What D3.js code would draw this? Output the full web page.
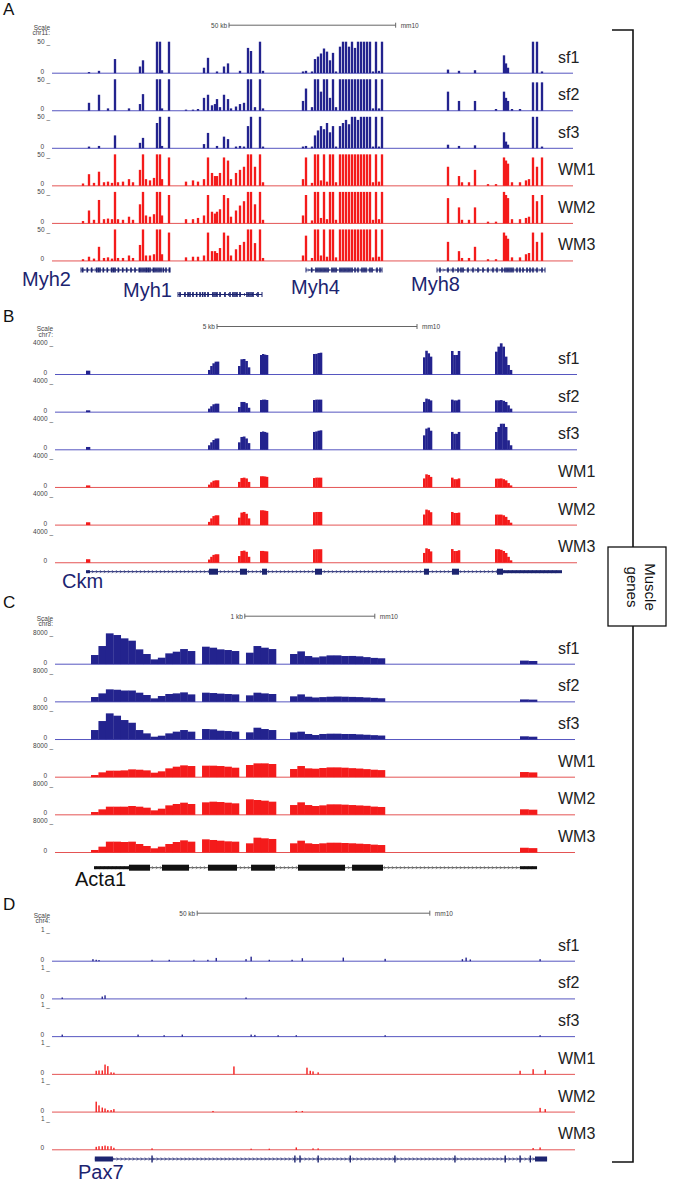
<!DOCTYPE html>
<html><head><meta charset="utf-8">
<script src="https://cdn.jsdelivr.net/npm/d3@7"></script>
<style>body{margin:0;background:#fff}svg{display:block}text{font-family:"Liberation Sans",Arial,sans-serif}</style>
</head><body><svg id="c" width="700" height="1182"></svg>
<script>
// ---------------- DATA ----------------
const samples = ["sf1","sf2","sf3","WM1","WM2","WM3"];

// Panel A (chr11, Myh cluster) — positions in kb from window start, heights 0–50
const aPos = [9.3,11.1,12.6,14.1,15.6,16.8,18.0,18.9,19.8,21.3,23.1,24.3,26.4,27.3,28.2,29.4,30.6,31.5,32.4,33.0,35.1,40.2,42.3,43.8,45.6,46.8,48.0,48.9,49.5,50.4,51.6,52.8,53.7,55.2,56.4,57.6,58.8,59.7,60.9,62.4,63.3,
  75.3,76.2,78.0,78.9,79.8,80.7,81.6,82.5,83.4,84.3,85.2,86.4,87.3,88.2,89.1,90.0,90.9,91.8,92.7,93.6,94.5,95.4,96.3,97.2,98.1,99.0,
  118.8,122.1,123.0,125.1,126.9,130.8,133.2,135.6,136.2,136.8,138.0,140.4,142.2,143.1,144.3,145.5,147.0];
const aSf1 = [0,1,0,3,0,0,0,22,0,0,0,0,10,20,0,0,0,50,50,4,50,0,0,0,8,24,0,0,2,0,10,15,0,0,3,0,40,35,0,50,3,
  2,3,2,22,26,31,39,34,20,32,2,42,50,50,42,50,40,50,50,50,50,50,2,50,3,50,
  5,3,0,0,4,0,0,28,15,8,0,0,0,0,50,50,2];
const aSf2 = [0,12,0,25,0,3,0,50,0,0,3,0,10,26,0,0,0,50,50,3,50,1,1,2,20,25,8,10,18,5,25,18,3,6,10,12,50,50,5,50,3,
  15,35,5,50,50,30,50,50,20,50,5,50,50,50,50,50,50,50,50,50,50,50,3,50,3,50,
  30,15,0,0,15,0,2,30,20,15,2,2,0,0,45,45,45];
const aSf3 = [0,2,0,3,0,0,0,20,0,0,0,0,8,16,0,0,0,40,50,3,50,0,0,0,6,24,0,0,3,0,18,14,0,2,3,2,35,50,0,50,2,
  2,3,2,20,28,35,30,40,25,35,2,35,40,45,38,50,50,45,50,50,50,50,2,50,2,50,
  5,3,0,0,4,0,0,25,10,5,0,0,0,0,50,50,2];
const aWm1 = [3,18,4,22,5,6,4,50,5,6,10,5,25,50,10,8,12,50,50,10,45,6,8,6,10,45,20,15,15,20,45,40,10,20,25,30,50,50,30,50,5,
  10,45,4,50,50,8,50,6,50,50,5,50,50,50,50,50,50,50,50,50,50,50,5,50,6,50,
  30,15,5,5,25,2,2,45,40,35,5,5,8,10,45,30,45];
const aWm2 = [3,20,5,37,6,7,6,50,6,5,10,5,30,50,12,10,14,50,50,12,45,6,6,8,12,45,18,15,18,22,45,40,10,20,28,35,50,50,30,50,5,
  12,45,4,50,50,8,50,6,50,50,5,50,50,50,50,50,50,50,50,50,50,50,5,50,6,50,
  40,25,5,5,25,2,2,50,45,40,6,6,8,10,45,35,45];
const aWm3 = [2,6,3,22,4,5,3,50,4,4,8,4,25,50,8,8,10,50,50,10,45,5,6,6,8,45,15,15,12,20,45,40,8,18,25,30,50,50,28,50,4,
  8,40,4,50,50,8,50,6,50,50,5,50,50,50,50,50,50,50,50,50,50,50,5,50,6,50,
  30,15,4,4,22,2,2,45,40,35,5,5,10,12,45,30,45];
const aGenes = ["Myh2","Myh1","Myh4","Myh8"];
const aGeneSpans = [[8.7,35.4],[37.8,63.0],[76.2,99.0],[115.5,147.9]];
const aGeneExons = [
  [9.2,10.6,11.9,13.4,13.9,14.4,15.4,16.6,17.9,18.4,18.9,19.9,21.2,22.4,23.7,24.9,26.2,26.7,27.3,27.9,28.4,28.9,29.4,30.4,30.9,31.5,32.1,32.7,33.4,34.2,35.2],
  [38.4,39.9,40.8,41.4,42.3,43.4,44.4,45.2,45.9,46.8,48.3,48.9,49.5,50.4,51.9,53.4,54.3,54.9,55.5,56.4,58.5,59.1,59.7,60.3,61.8],
  [77.9,79.2,79.8,80.4,81.0,81.6,82.2,82.8,84.0,84.6,85.2,86.4,87.0,87.6,88.2,88.8,89.4,90.0,90.9,91.8,93.0,93.6,94.2,95.4,96.0,97.5,98.4],
  [116.4,118.8,120.3,121.8,122.7,123.3,124.8,126.3,127.8,129.3,130.8,132.3,133.5,135.0,135.9,136.5,137.1,137.7,138.3,139.5,140.4,141.3,142.5,143.4,144.3,145.5,147.0]
];

// Panel B (chr7, Ckm) — exon coverage blocks (kb) with stepped heights 0–4000
const bBlockStart = [0.775,3.825,4.575,5.125,6.45,9.2,9.9,11.0];
const bBlockEnd   = [0.875,4.1,4.875,5.325,6.675,9.425,10.125,11.425];
const bSf1 = [[430],[520,1030,1380,1590,1600],[1030,1900,1935,1680,860],[2450,2580,2500,2450],[2580,2600,2700,2750],[2150,3000,2670,2240],[2970,2450,2450,2970],[2880,3530,3960,3530,2240,1160,520]];
const bSf2 = [[170],[390,700,950,1030,1030],[600,1250,1250,1100,500],[1500,1550,1550,1500],[1500,1550,1550,1550],[1250,1680,1600,1450],[1550,1450,1450,1550],[1460,1460,1500,1400,1250,820,390]];
const bSf3 = [[300],[520,900,1200,1380,1400],[900,1590,1650,1400,800],[2240,2300,2240,2150],[2240,2300,2400,2450],[1800,2670,2800,2400],[2240,2000,2000,2240],[2240,2880,3300,3300,2880,1160,520]];
const bWm1 = [[200],[300,600,800,860,860],[650,1150,1200,1100,650],[1380,1380,1350,1300],[1150,1200,1200,1200],[1100,1630,1550,1300],[1200,1000,1000,1100],[1075,1075,1100,1000,850,500,200]];
const bWm2 = [[300],[350,800,1100,1200,1200],[900,1550,1630,1400,800],[1850,1850,1800,1750],[1600,1630,1630,1630],[1300,1940,1850,1600],[1630,1500,1500,1550],[1290,1290,1290,1200,1000,600,250]];
const bWm3 = [[390],[350,700,950,1030,1030],[800,1450,1500,1350,700],[1460,1460,1420,1400],[1650,1680,1680,1680],[1200,1800,1700,1400],[1700,1450,1450,1550],[1680,1680,1600,1450,1200,700,250]];
const bGeneSpan = [0.775,12.675];
const bGeneUtr = [[0.775,0.875],[11.2,12.675]];
const bGeneExons = [[3.85,4.075],[4.625,4.8],[5.175,5.3],[6.5,6.675],[9.225,9.35],[9.925,10.1],[11.05,11.2]];

// Panel C (chr8, Acta1) — coverage blocks (kb), heights 0–8000
const cBlockStart = [0.277,1.131,1.469,1.808,3.577];
const cBlockEnd   = [1.077,1.415,1.7,2.538,3.708];
const cSf1 = [[2240,4560,7830,7400,6540,5940,3700,2500,1120,1550,2670,3100,3780,3270],[4390,4130,3700,3530,3270],[2840,4560,4130,3780],[2500,3180,1980,1630,1890,2150,2150,1980,2000,1900,1700,1500,1400],[800,700]];
const cSf2 = [[1120,2060,3100,3000,2800,2800,2240,1640,770,1380,1900,2060,2320,1800],[2240,2150,2000,1900,1800],[1550,2240,2060,1900],[1300,1800,1200,1000,1100,1200,1250,1200,1150,1100,1000,900,800],[500,450]];
const cSf3 = [[2320,4640,6620,6020,4900,4200,2320,1460,600,860,1460,1900,2320,1900],[2580,2500,2150,2060,1900],[1720,2920,2580,2320],[1720,1900,1300,1030,1300,1380,1380,1300,1300,1200,1100,1000,900],[700,600]];
const cWm1 = [[430,1120,1550,1550,1630,1890,1800,1630,1030,1380,2150,2580,2920,2750],[2840,2840,2750,2580,2320],[3010,3440,3440,3270],[1980,2750,2150,2060,2240,2400,2400,2320,2200,2100,1950,1800,1700],[1200,1100]];
const cWm2 = [[600,1290,1980,1980,1980,2150,1980,1720,1030,1460,2320,2670,3010,2670],[3100,3270,3180,3010,2840],[3870,3700,3530,3270],[2400,3100,2400,2150,2320,2580,2580,2500,2400,2300,2200,2000,1900],[1300,1200]];
const cWm3 = [[520,1380,2670,2670,2580,2670,2060,1550,950,1380,2060,2580,3010,2670],[3270,3100,2920,2750,2670],[2240,3700,3530,3360],[2240,2920,2240,2060,2240,2400,2400,2320,2250,2150,2050,1900,1800],[1100,1000]];
const cGeneSpan = [0.3,3.708];
const cGeneUtr = [[0.3,0.569],[3.577,3.708]];
const cGeneExons = [[0.569,0.731],[0.823,1.031],[1.177,1.4],[1.508,1.692],[1.869,2.231],[2.285,2.523]];

// Panel D (chr4, Pax7) — positions in kb, heights 0–1
const dPos = [2.2,8.8,9.5,10.1,10.8,11.4,12.0,12.7,13.3,18.5,21.5,24.1,25.2,28.0,30.5,33.5,34.6,35.3,39.1,41.7,42.8,43.6,46.7,48.6,51.6,52.5,53.8,54.8,55.5,56.1,57.2,62.6,71.6,88.2,89.0,89.9,98.5,100.6,103.4,104.9,106.0];
const dSf1 = [0,.05,.03,.02,0,0,0,0,0,0,.03,0,.03,0,.03,.03,0,.09,0,.05,.13,0,.03,0,.03,0,.08,0,0,0,0,.1,.06,.05,.1,.04,0,0,0,.05,0];
const dSf2 = [.03,0,0,0,.06,.1,0,0,0,0,0,0,0,0,0,0,0,0,0,.03,0,0,0,0,0,0,0,0,0,0,0,0,0,0,0,0,0,0,0,0,0];
const dSf3 = [.05,0,0,0,0,0,0,0,0,.05,0,.03,0,.05,0,0,0,0,0,0,.05,.04,0,.03,0,.03,0,0,0,0,0,0,.03,0,0,0,0,0,0,.03,0];
const dWm1 = [0,0,.1,.11,.11,.3,.25,.05,.04,0,0,0,0,0,0,0,0,0,.24,0,0,0,0,0,0,0,0,.2,.1,.08,.05,0,0,0,0,0,0,.1,.15,0,.12];
const dWm2 = [0,0,.32,.2,.13,.1,.05,.05,.08,0,0,0,0,0,0,0,.02,0,0,0,0,0,0,0,0,.02,.02,0,0,0,0,0,0,0,0,0,0,0,0,.12,.08];
const dWm3 = [0,0,.08,.1,.1,.12,.1,.1,.05,0,.03,0,0,0,0,0,0,0,0,0,.02,0,.02,0,0,.06,0,0,0,.03,.03,0,0,0,0,0,0,0,.04,.06,0];
const dGeneSpan = [9.2,106.4];
const dGeneUtr = [[9.2,13.1],[103.8,106.4]];
const dGeneExons = [21.5,52.2,53.3,57.2,64.1,73.7,86.6,97.4,100.6,102.8];

// ---------------- DRAWING ----------------
const svg = d3.select("#c");
const BLUE = "#23238e", BLUE_LINE = "#5656c0", RED = "#f41b1b", RED_LINE = "#e45454";
const NAVY = "#1c2470";

function panel(cfg) {
  const g = svg.append("g");
  const x = d3.scaleLinear().domain(cfg.domain).range([cfg.x0, cfg.x1]);
  g.append("text").attr("x", 3).attr("y", cfg.letterY).attr("font-size", 17).attr("fill", "#111").text(cfg.letter);
  const top0 = cfg.base0 - cfg.h;
  // scale bar
  const sy = top0 - 16.5;
  const sx0 = x(cfg.scale[0]), sx1 = x(cfg.scale[0] + cfg.scale[1]);
  g.append("line").attr("x1", sx0).attr("x2", sx1).attr("y1", sy).attr("y2", sy).attr("stroke", "#666").attr("stroke-width", 1);
  [sx0, sx1].forEach(v => g.append("line").attr("x1", v).attr("x2", v).attr("y1", sy - 2.5).attr("y2", sy + 2.5).attr("stroke", "#666"));
  g.append("text").attr("x", sx0 - 2).attr("y", sy + 2.3).attr("text-anchor", "end").attr("font-size", 6.5).attr("fill", "#444").text(cfg.scaleLabel);
  g.append("text").attr("x", sx1 + 5).attr("y", sy + 2.3).attr("font-size", 6.5).attr("fill", "#444").text("mm10");
  g.append("text").attr("x", cfg.x0 - 2).attr("y", top0 - 12).attr("text-anchor", "end").attr("font-size", 6.5).attr("fill", "#444").text("Scale");
  g.append("text").attr("x", cfg.x0 - 2).attr("y", top0 - 6.5).attr("text-anchor", "end").attr("font-size", 6.5).attr("fill", "#444").text(cfg.chr);

  cfg.series.forEach((vals, i) => {
    const base = cfg.base0 + i * cfg.step;
    const y = d3.scaleLinear().domain([0, cfg.max]).range([base, base - cfg.h]).clamp(true);
    const col = i < 3 ? BLUE : RED, lcol = i < 3 ? BLUE_LINE : RED_LINE;
    g.append("line").attr("x1", cfg.x0).attr("x2", cfg.x1).attr("y1", base + 0.5).attr("y2", base + 0.5).attr("stroke", lcol).attr("stroke-width", 1);
    let bars;
    if (cfg.pos) {
      bars = cfg.pos.map((p, k) => ({a: p - cfg.w / 2, b: p + cfg.w / 2, v: vals[k]})).filter(d => d.v > 0);
    } else {
      bars = [];
      cfg.starts.forEach((s, j) => {
        const steps = vals[j], n = steps.length, wd = (cfg.ends[j] - s) / n;
        steps.forEach((v, k) => bars.push({a: s + k * wd, b: s + (k + 1) * wd, v}));
      });
    }
    g.append("g").selectAll("rect").data(bars).join("rect")
      .attr("x", d => x(d.a)).attr("width", d => Math.max(0.8, x(d.b) - x(d.a) + (cfg.pos ? 0 : 0.3)))
      .attr("y", d => y(d.v)).attr("height", d => base + 0.5 - y(d.v))
      .attr("fill", col);
    g.append("text").attr("x", cfg.x0 - 2).attr("y", base - cfg.h + 2.3).attr("text-anchor", "end").attr("font-size", 6.5).attr("fill", "#444").text(cfg.max + " _");
    g.append("text").attr("x", cfg.x0 - 8).attr("y", base + 1).attr("text-anchor", "end").attr("font-size", 6.5).attr("fill", "#444").text("0");
    g.append("text").attr("x", 558).attr("y", base - 10).attr("font-size", 16).attr("fill", "#222").text(samples[i]);
  });
  return {g, x};
}

function intron(g, x, span, yy, col) {
  g.append("line").attr("x1", x(span[0])).attr("x2", x(span[1])).attr("y1", yy).attr("y2", yy).attr("stroke", col).attr("stroke-width", 1);
  const px0 = x(span[0]), px1 = x(span[1]);
  const marks = d3.range(px0 + 3, px1 - 2, 4);
  g.append("g").selectAll("path").data(marks).join("path")
    .attr("d", m => `M${m - 1},${yy - 1.5}L${m + 0.5},${yy}L${m - 1},${yy + 1.5}`)
    .attr("fill", "none").attr("stroke", col).attr("stroke-width", 0.7);
}

// ---- Panel A
const A = panel({letter: "A", letterY: 15, domain: [0, 156.3], x0: 52, x1: 573, base0: 72.7, step: 37.55, h: 31, max: 50,
  scale: [53.1, 50], scaleLabel: "50 kb", chr: "chr11:", pos: aPos, w: 0.7,
  series: [aSf1, aSf2, aSf3, aWm1, aWm2, aWm3]});
const aGeneY = [270, 294.5, 270, 270];
aGenes.forEach((name, i) => {
  const yy = aGeneY[i];
  intron(A.g, A.x, aGeneSpans[i], yy, NAVY);
  [aGeneSpans[i][0], aGeneSpans[i][1]].forEach(p => A.g.append("line").attr("x1", A.x(p)).attr("x2", A.x(p)).attr("y1", yy - 2.5).attr("y2", yy + 2.5).attr("stroke", NAVY));
  A.g.append("g").selectAll("rect").data(aGeneExons[i]).join("rect")
    .attr("x", d => A.x(d) - 0.8).attr("width", 1.6).attr("y", yy - 2.5).attr("height", 5).attr("fill", NAVY);
});
const aLab = [[22, 286], [123, 297], [291, 294], [411, 291]];
aGenes.forEach((n, i) => A.g.append("text").attr("x", aLab[i][0]).attr("y", aLab[i][1]).attr("font-size", 20).attr("fill", NAVY).text(n));

// ---- Panel B
const B = panel({letter: "B", letterY: 322, domain: [0, 13.05], x0: 55, x1: 577, base0: 374, step: 37.65, h: 31, max: 4000,
  scale: [4.05, 5], scaleLabel: "5 kb", chr: "chr7:", starts: bBlockStart, ends: bBlockEnd,
  series: [bSf1, bSf2, bSf3, bWm1, bWm2, bWm3]});
{
  const yy = 571.7;
  intron(B.g, B.x, bGeneSpan, yy, NAVY);
  B.g.append("g").selectAll("rect").data(bGeneUtr).join("rect").attr("x", d => B.x(d[0])).attr("width", d => B.x(d[1]) - B.x(d[0]))
    .attr("y", yy - 1.5).attr("height", 3).attr("fill", NAVY);
  B.g.append("g").selectAll("rect").data(bGeneExons).join("rect").attr("x", d => B.x(d[0])).attr("width", d => B.x(d[1]) - B.x(d[0]))
    .attr("y", yy - 3).attr("height", 6).attr("fill", NAVY);
  B.g.append("text").attr("x", 62).attr("y", 588).attr("font-size", 20).attr("fill", NAVY).text("Ckm");
}

// ---- Panel C
const C = panel({letter: "C", letterY: 608, domain: [0, 4.0], x0: 55, x1: 575, base0: 663.7, step: 37.66, h: 31, max: 8000,
  scale: [1.46, 1], scaleLabel: "1 kb", chr: "chr8:", starts: cBlockStart, ends: cBlockEnd,
  series: [cSf1, cSf2, cSf3, cWm1, cWm2, cWm3]});
{
  const yy = 867.7, K = "#111";
  intron(C.g, C.x, cGeneSpan, yy, "#555");
  C.g.append("g").selectAll("rect").data(cGeneUtr).join("rect").attr("x", d => C.x(d[0])).attr("width", d => C.x(d[1]) - C.x(d[0]))
    .attr("y", yy - 1.5).attr("height", 3).attr("fill", K);
  C.g.append("g").selectAll("rect").data(cGeneExons).join("rect").attr("x", d => C.x(d[0])).attr("width", d => C.x(d[1]) - C.x(d[0]))
    .attr("y", yy - 3).attr("height", 6).attr("fill", K);
  C.g.append("text").attr("x", 75).attr("y", 886).attr("font-size", 20).attr("fill", K).text("Acta1");
}

// ---- Panel D
const D = panel({letter: "D", letterY: 910, domain: [0, 112.4], x0: 52, x1: 575, base0: 960.7, step: 37.72, h: 31, max: 1,
  scale: [31.2, 50], scaleLabel: "50 kb", chr: "chr4:", pos: dPos, w: 0.3,
  series: [dSf1, dSf2, dSf3, dWm1, dWm2, dWm3]});
{
  const yy = 1159;
  intron(D.g, D.x, dGeneSpan, yy, NAVY);
  D.g.append("g").selectAll("rect").data(dGeneUtr).join("rect").attr("x", d => D.x(d[0])).attr("width", d => D.x(d[1]) - D.x(d[0]))
    .attr("y", yy - 2.5).attr("height", 5).attr("fill", NAVY);
  D.g.append("g").selectAll("rect").data(dGeneExons).join("rect").attr("x", d => D.x(d) - 0.7).attr("width", 1.4)
    .attr("y", yy - 3.5).attr("height", 7).attr("fill", NAVY);
  D.g.append("text").attr("x", 78).attr("y", 1179).attr("font-size", 20).attr("fill", NAVY).text("Pax7");
}

// ---- Bracket
const br = svg.append("g");
br.append("path").attr("d", "M612,30H633V1162H612").attr("fill", "none").attr("stroke", "#111").attr("stroke-width", 1.6);
br.append("rect").attr("x", 608).attr("y", 547).attr("width", 58).attr("height", 79).attr("fill", "#fff").attr("stroke", "#111").attr("stroke-width", 1.3);
const bt = br.append("g").attr("transform", "translate(637,587) rotate(90)");
bt.append("text").attr("x", 0).attr("y", -8).attr("text-anchor", "middle").attr("font-size", 15).attr("fill", "#111").text("Muscle");
bt.append("text").attr("x", 0).attr("y", 10).attr("text-anchor", "middle").attr("font-size", 15).attr("fill", "#111").text("genes");
</script></body></html>
